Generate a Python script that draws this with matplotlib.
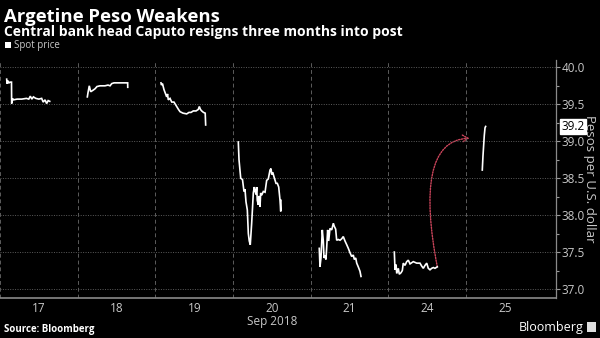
import matplotlib
matplotlib.use("Agg")
import matplotlib.pyplot as plt
from matplotlib.path import Path
from matplotlib.patches import FancyArrowPatch, Rectangle
from matplotlib.ticker import MultipleLocator, FormatStrFormatter

# Trading days shown on the x axis (one slot per session)
day_labels = ["17", "18", "19", "20", "21", "24", "25"]

# Intraday spot quotes: position within the day's slot (0..1) and pesos per dollar
d17_t = [0.086, 0.090, 0.100, 0.115, 0.130, 0.148, 0.150, 0.160, 0.172, 0.220, 0.280, 0.340, 0.370,
         0.390, 0.410, 0.430, 0.460, 0.500, 0.536, 0.556, 0.580, 0.600, 0.620, 0.640]
d17_v = [39.84, 39.78, 39.82, 39.79, 39.80, 39.80, 39.51, 39.58, 39.56, 39.57, 39.57, 39.58, 39.57,
         39.61, 39.57, 39.60, 39.58, 39.57, 39.58, 39.53, 39.56, 39.51, 39.55, 39.54]

d18_t = [0.124, 0.133, 0.149, 0.167, 0.197, 0.223, 0.248, 0.287, 0.351, 0.390, 0.416, 0.438,
         0.467, 0.502, 0.544, 0.596, 0.643, 0.644]
d18_v = [39.60, 39.66, 39.75, 39.67, 39.69, 39.71, 39.74, 39.75, 39.75, 39.76, 39.75, 39.78,
         39.79, 39.79, 39.79, 39.79, 39.79, 39.73]

d19_t = [0.072, 0.078, 0.091, 0.110, 0.124, 0.145, 0.156, 0.166, 0.188, 0.210, 0.239, 0.274,
         0.297, 0.317, 0.355, 0.403, 0.432, 0.458, 0.488, 0.523, 0.552, 0.565, 0.580, 0.596,
         0.619, 0.641, 0.647]
d19_v = [39.79, 39.76, 39.78, 39.70, 39.66, 39.60, 39.64, 39.56, 39.58, 39.53, 39.53, 39.47,
         39.43, 39.40, 39.38, 39.37, 39.39, 39.39, 39.41, 39.41, 39.43, 39.47, 39.43, 39.41,
         39.39, 39.38, 39.22]

d20_t = [0.067, 0.076, 0.098, 0.121, 0.140, 0.153, 0.166, 0.183, 0.196, 0.208, 0.221, 0.239,
         0.250, 0.260, 0.273, 0.282, 0.295, 0.304, 0.311, 0.324, 0.337, 0.346, 0.355, 0.368,
         0.389, 0.411, 0.432, 0.453, 0.475, 0.488, 0.497, 0.510, 0.526, 0.552, 0.569, 0.587,
         0.604, 0.613, 0.616]
d20_v = [38.99, 38.75, 38.50, 38.48, 38.32, 38.35, 38.18, 38.07, 37.75, 37.65, 37.60, 37.89,
         38.10, 38.30, 38.38, 38.33, 38.28, 38.38, 38.20, 38.14, 38.26, 38.11, 38.30, 38.27,
         38.32, 38.31, 38.47, 38.49, 38.61, 38.63, 38.55, 38.58, 38.52, 38.43, 38.43, 38.38,
         38.20, 38.05, 38.20]

d21_t = [0.109, 0.118, 0.131, 0.148, 0.161, 0.170, 0.183, 0.195, 0.205, 0.217, 0.230, 0.247,
         0.269, 0.290, 0.302, 0.320, 0.333, 0.354, 0.376, 0.398, 0.418, 0.440, 0.462, 0.483,
         0.505, 0.526, 0.547, 0.560, 0.578, 0.591, 0.611, 0.633, 0.646]
d21_v = [37.55, 37.30, 37.42, 37.80, 37.65, 37.42, 37.45, 37.40, 37.57, 37.80, 37.65, 37.82,
         37.80, 37.89, 37.85, 37.81, 37.66, 37.67, 37.66, 37.68, 37.71, 37.65, 37.60, 37.55,
         37.49, 37.44, 37.46, 37.40, 37.42, 37.35, 37.30, 37.24, 37.17]

d24_t = [0.075, 0.084, 0.097, 0.106, 0.126, 0.139, 0.161, 0.178, 0.190, 0.212, 0.234, 0.255,
         0.277, 0.319, 0.363, 0.405, 0.427, 0.448, 0.470, 0.492, 0.512, 0.534, 0.556, 0.577,
         0.598, 0.628]
d24_v = [37.50, 37.26, 37.33, 37.21, 37.28, 37.20, 37.22, 37.25, 37.35, 37.32, 37.37, 37.39,
         37.34, 37.37, 37.35, 37.35, 37.31, 37.28, 37.32, 37.35, 37.28, 37.26, 37.28, 37.29,
         37.28, 37.30]

d25_t = [0.207, 0.216, 0.225, 0.233, 0.242, 0.250]
d25_v = [38.61, 38.80, 38.95, 39.08, 39.18, 39.20]

sessions_t = [d17_t, d18_t, d19_t, d20_t, d21_t, d24_t, d25_t]
sessions_v = [d17_v, d18_v, d19_v, d20_v, d21_v, d24_v, d25_v]

last_price = 39.2

BG = "black"
GRID = "#5c5c5c"
TXT = "#c8c8c8"
ARROW = "#c9445a"

plt.rcParams["font.family"] = ["Open Sans", "DejaVu Sans"]

fig = plt.figure(figsize=(6.0, 3.38), dpi=100, facecolor=BG)
ax = fig.add_axes([0.0, 0.1183, 0.9267, 0.7041], facecolor=BG)

for i, (ts, vs) in enumerate(zip(sessions_t, sessions_v)):
    ax.plot([i + t for t in ts], vs, color="white", lw=1.2, solid_joinstyle="miter")

ax.set_xlim(0, 7.156)
ax.set_ylim(36.878, 40.099)

# day separators (dashed) and price grid (dotted)
ax.set_xticks(range(len(day_labels)))
ax.set_xticklabels([])
ax.set_xticks([i + 0.5 for i in range(len(day_labels))], minor=True)
ax.set_xticklabels(day_labels, minor=True)
ax.tick_params(axis="x", which="both", length=0, colors=TXT, labelsize=8.5, pad=3)
ax.xaxis.grid(True, which="major", color=GRID, ls=(0, (4, 3)), lw=0.7)

ax.yaxis.set_major_locator(MultipleLocator(0.5))
ax.yaxis.set_minor_locator(MultipleLocator(0.25))
ax.yaxis.set_major_formatter(FormatStrFormatter("%.1f"))
ax.yaxis.tick_right()
ax.tick_params(axis="y", which="major", length=3, width=0.8, colors="#9a9a9a",
               labelcolor=TXT, labelsize=8.5, pad=1)
ax.tick_params(axis="y", which="minor", length=2, width=0.8, colors="#9a9a9a")
ax.yaxis.grid(True, which="major", color=GRID, ls=(0, (1, 1.5)), lw=0.7)

for side in ("top", "left"):
    ax.spines[side].set_visible(False)
ax.spines["right"].set_color("#8a8a8a")
ax.spines["bottom"].set_color("#8a8a8a")
ax.spines["right"].set_linewidth(0.9)
ax.spines["bottom"].set_linewidth(1.2)

ax.set_ylabel("Pesos per U.S. dollar", rotation=270, color=TXT, fontsize=9.5, labelpad=8)
ax.yaxis.set_label_position("right")

ax.text(3.5, -0.1, "Sep 2018", transform=ax.get_xaxis_transform(), ha="center", va="center",
        color=TXT, fontsize=8.5)

# last-price tag on the value axis
ax.annotate(f"{last_price:.1f}", xy=(1.0, last_price), xycoords=("axes fraction", "data"),
            xytext=(4, 0), textcoords="offset points", ha="left", va="center",
            fontsize=8.5, color="black",
            bbox=dict(boxstyle="square,pad=0.12", fc="white", ec="white"))

# curved dotted arrow from Monday's close to Tuesday's jump
x0, y0 = 5 + d24_t[-1], d24_v[-1]
x3, y3 = 6.04, 39.04
curve = Path([(x0, y0), (x0 - 0.19, y0 + 1.04), (x0 - 0.11, y0 + 1.72), (x3, y3)],
             [Path.MOVETO, Path.CURVE4, Path.CURVE4, Path.CURVE4])
arrow = FancyArrowPatch(path=curve, arrowstyle="->,head_length=4,head_width=2.5",
                        color=ARROW, lw=1.0, ls=(0, (1, 1)), mutation_scale=1)
ax.add_patch(arrow)

# titles and footer
fig.text(0.006, 0.950, "Argetine Peso Weakens", color="white", fontsize=13.3, fontweight="bold",
         ha="left", va="center")
fig.text(0.006, 0.906, "Central bank head Caputo resigns three months into post", color="white",
         fontsize=10, fontweight="bold", ha="left", va="center")
fig.patches.append(Rectangle((0.008, 0.858), 0.0095, 0.017, transform=fig.transFigure,
                             fc="white", ec="none"))
fig.text(0.024, 0.866, "Spot price", color=TXT, fontsize=7, ha="left", va="center")
fig.text(0.006, 0.024, "Source: Bloomberg", color="white", fontsize=7, fontweight="bold",
         ha="left", va="center")
fig.text(0.972, 0.03, "Bloomberg", color="white", fontsize=9, ha="right", va="center")
fig.patches.append(Rectangle((0.978, 0.018), 0.016, 0.028, transform=fig.transFigure,
                             fc="#dddddd", ec="none"))

fig.savefig("out.png", dpi=100, facecolor=BG)
